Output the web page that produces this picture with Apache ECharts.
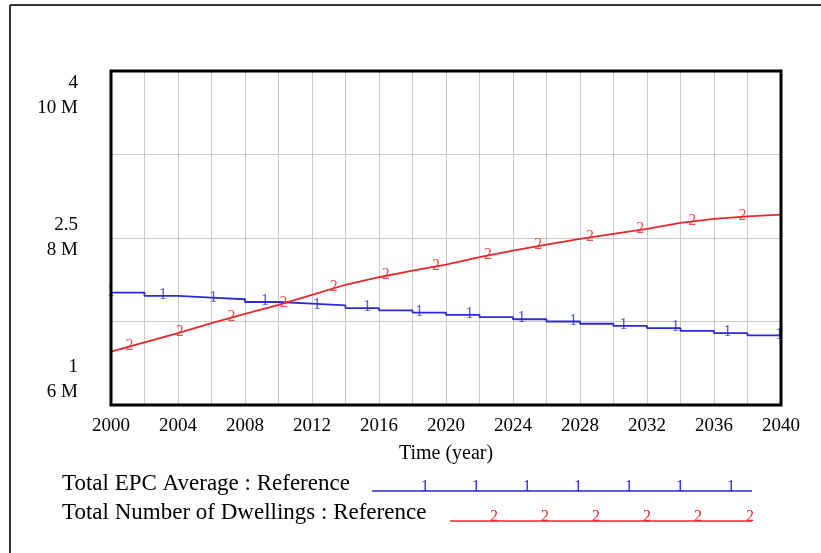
<!DOCTYPE html>
<html>
<head>
<meta charset="utf-8">
<script src="https://cdn.jsdelivr.net/npm/echarts@6/dist/echarts.min.js"></script>
<style>
  html, body { margin: 0; padding: 0; background: #fff; }
  #chart { width: 821px; height: 553px; }
</style>
</head>
<body>
<div id="chart"></div>
<script>
// Simulation output, saved every two years
const years = [2000, 2002, 2004, 2006, 2008, 2010, 2012, 2014, 2016, 2018, 2020,
               2022, 2024, 2026, 2028, 2030, 2032, 2034, 2036, 2038, 2040];
const epcAverage = [2.01, 1.98, 1.965, 1.95, 1.925, 1.91, 1.895, 1.87, 1.85, 1.83, 1.81,
                    1.79, 1.77, 1.75, 1.73, 1.71, 1.69, 1.665, 1.645, 1.625, 1.61];
const dwellingsMillions = [6.64, 6.75, 6.86, 6.98, 7.09, 7.20, 7.32, 7.44, 7.53, 7.61, 7.68,
                           7.77, 7.85, 7.92, 7.99, 8.05, 8.11, 8.18, 8.23, 8.26, 8.28];

// Where the series numerals sit along each curve
const epcMarkYears = [2000, 2003.1, 2006.1, 2009.2, 2012.3, 2015.3, 2018.4, 2021.4,
                      2024.5, 2027.6, 2030.6, 2033.7, 2036.8, 2039.9];
const dwellingMarkYears = [2001.1, 2004.1, 2007.2, 2010.3, 2013.3, 2016.4, 2019.4,
                           2022.5, 2025.5, 2028.6, 2031.6, 2034.7, 2037.7];

// Axis labels
const xTickLabels = ['2000', '2004', '2008', '2012', '2016', '2020', '2024', '2028', '2032', '2036', '2040'];
const epcTickLabels = ['1', '2.5', '4'];
const dwellingTickLabels = ['6 M', '8 M', '10 M'];

const seriesNames = ['Total EPC Average : Reference', 'Total Number of Dwellings : Reference'];

const FONT = "'Liberation Serif', 'Times New Roman', serif";
const BLUE = '#2a2ad8';
const RED = '#e8262b';

function stepValueAt(xs, ys, t) {
  let v = ys[0];
  for (let i = 0; i < xs.length; i++) if (xs[i] <= t) v = ys[i];
  return v;
}
function linearValueAt(xs, ys, t) {
  for (let i = 1; i < xs.length; i++) {
    if (t <= xs[i]) {
      const f = (t - xs[i - 1]) / (xs[i] - xs[i - 1]);
      return ys[i - 1] + f * (ys[i] - ys[i - 1]);
    }
  }
  return ys[ys.length - 1];
}

const epcData = years.map((y, i) => [y, epcAverage[i]]);
const dwellData = years.map((y, i) => [y, dwellingsMillions[i]]);
const epcMarks = epcMarkYears.map(t => [t, stepValueAt(years, epcAverage, t)]);
const dwellMarks = dwellingMarkYears.map(t => [t, linearValueAt(years, dwellingsMillions, t)]);

function numeralSeries(name, data, yAxisIndex, text, color) {
  return {
    name: name, type: 'scatter', yAxisIndex: yAxisIndex, data: data,
    symbolSize: 0, silent: true, z: 5, clip: false,
    label: {
      show: true, formatter: text, position: 'top', distance: 0, offset: [0, 7],
      color: color, fontFamily: FONT, fontSize: 16
    }
  };
}

// Legend rows: caption, sample line and numerals
function legendRow(baseline, lineY, caption, lineStart, numeralXs, text, color) {
  const children = [
    { type: 'text', left: 62, top: baseline - 21,
      style: { text: caption, font: '23px ' + FONT, fill: '#000' } },
    { type: 'line', shape: { x1: lineStart, y1: lineY, x2: 752, y2: lineY },
      style: { stroke: color, lineWidth: 1.5 } }
  ];
  numeralXs.forEach(x => children.push({
    type: 'text', x: x, y: lineY + 4,
    style: { text: text, font: '16px ' + FONT, fill: color, align: 'center', verticalAlign: 'bottom' }
  }));
  return children;
}

const chart = echarts.init(document.getElementById('chart'));

chart.setOption({
  backgroundColor: '#fff',
  animation: false,
  grid: {
    left: 111, top: 71, right: 40, bottom: 148,
    show: true, borderColor: '#000', borderWidth: 3, backgroundColor: 'transparent', z: 10
  },
  xAxis: {
    type: 'value', min: 2000, max: 2040, interval: 2,
    name: 'Time (year)', nameLocation: 'middle', nameGap: 39,
    nameTextStyle: { fontFamily: FONT, fontSize: 20, color: '#000' },
    axisLine: { show: false }, axisTick: { show: false },
    axisLabel: {
      margin: 12, fontFamily: FONT, fontSize: 19, color: '#000',
      formatter: v => (xTickLabels.indexOf(String(v)) >= 0 ? String(v) : '')
    },
    splitLine: { show: true, lineStyle: { color: '#c9c9c9', width: 1 } }
  },
  yAxis: [
    {
      type: 'value', min: 1, max: 4, interval: 0.75,
      axisLine: { show: false }, axisTick: { show: false },
      axisLabel: {
        margin: 33, fontFamily: FONT, fontSize: 19, lineHeight: 25, color: '#000', align: 'right',
        formatter: function (v) {
          const i = epcTickLabels.indexOf(String(v));
          if (i < 0) return '';
          const body = epcTickLabels[i] + '\n' + dwellingTickLabels[i];
          if (i === epcTickLabels.length - 1) return '\n\n' + body;
          if (i === 0) return body + '\n\n';
          return body;
        }
      },
      splitLine: { show: true, lineStyle: { color: '#c9c9c9', width: 1 } }
    },
    {
      type: 'value', min: 6, max: 10, interval: 1, show: false,
      splitLine: { show: false }
    }
  ],
  series: [
    {
      name: seriesNames[0], type: 'line', yAxisIndex: 0, data: epcData, step: 'end',
      showSymbol: false, lineStyle: { color: BLUE, width: 1.8 }, itemStyle: { color: BLUE }, z: 3
    },
    {
      name: seriesNames[1], type: 'line', yAxisIndex: 1, data: dwellData,
      showSymbol: false, lineStyle: { color: RED, width: 1.8 }, itemStyle: { color: RED }, z: 3
    },
    numeralSeries(seriesNames[0] + ' numerals', epcMarks, 0, '1', BLUE),
    numeralSeries(seriesNames[1] + ' numerals', dwellMarks, 1, '2', RED)
  ],
  graphic: [
    // outer frame edges
    { type: 'line', shape: { x1: 10, y1: 5, x2: 821, y2: 5 }, style: { stroke: '#333', lineWidth: 2 } },
    { type: 'line', shape: { x1: 10, y1: 5, x2: 10, y2: 553 }, style: { stroke: '#333', lineWidth: 2 } },
    ...legendRow(493, 491, seriesNames[0], 372, [425, 476, 527, 578, 629, 680, 731], '1', BLUE),
    ...legendRow(522, 521, seriesNames[1], 450, [494, 545, 596, 647, 698, 750], '2', RED)
  ]
});
</script>
</body>
</html>
